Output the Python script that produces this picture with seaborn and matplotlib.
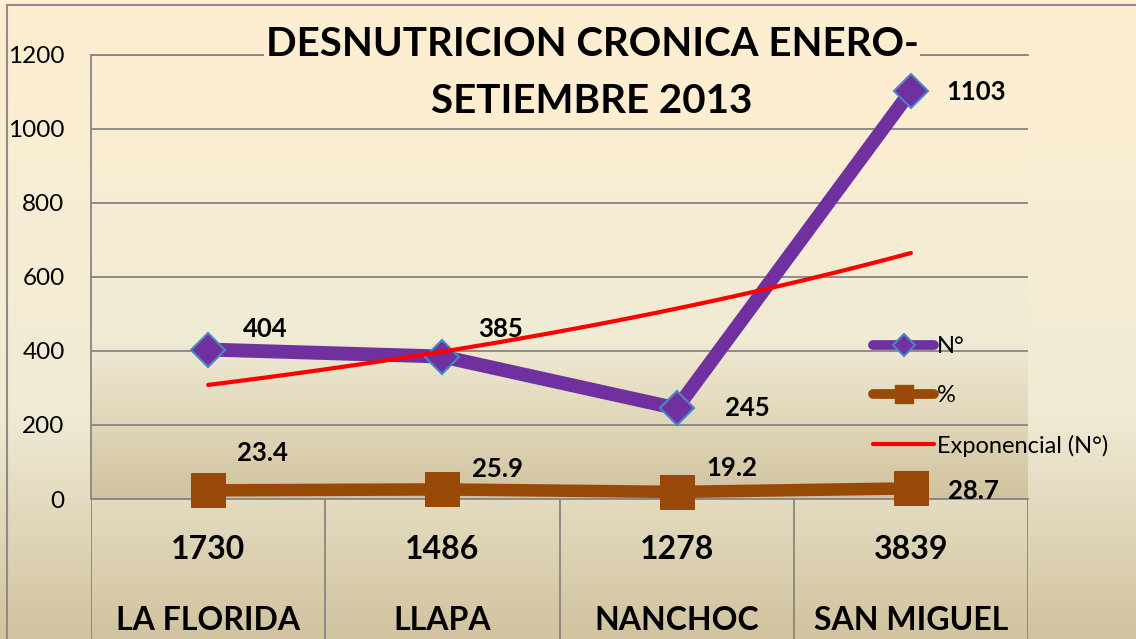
import numpy as np
import pandas as pd
import seaborn as sns
import matplotlib.pyplot as plt
from matplotlib.colors import LinearSegmentedColormap
from matplotlib.lines import Line2D

# Data
municipios = ['LA FLORIDA', 'LLAPA', 'NANCHOC', 'SAN MIGUEL']
poblacion = [1730, 1486, 1278, 3839]
casos = [404, 385, 245, 1103]
porcentaje = [23.4, 25.9, 19.2, 28.7]
titulo = 'DESNUTRICION CRONICA ENERO-\nSETIEMBRE 2013'

# label offsets (points)
off_casos = [(41, 15), (42, 20), (51, 0), (47, -1)]
off_pct = [(39, 27), (40, 15), (40, 17), (45, -2)]

sns.set_style('white')
plt.rcParams['font.family'] = ['Lato', 'DejaVu Sans']
plt.rcParams['text.color'] = 'black'
plt.rcParams['ytick.color'] = 'black'

W, H = 1136, 639
fig = plt.figure(figsize=(W / 100, H / 100), dpi=100)

parchment = LinearSegmentedColormap.from_list(
    'parchment', [(0, '#FFEFD1'), (0.64, '#F0EBD5'), (1, '#D1C39F')])
grad = np.linspace(0, 1, 512).reshape(-1, 1)

# chart background
bg = fig.add_axes([0, 0, 1, 1], zorder=-10)
bg.imshow(grad, cmap=parchment, aspect='auto', extent=[0, 1, 0, 1], interpolation='bilinear')
bg.plot([7 / W, 7 / W], [0, 1 - 5 / H], color='#8C8C8C', lw=1.5)
bg.plot([7 / W, 1], [1 - 5 / H, 1 - 5 / H], color='#8C8C8C', lw=1.5)
bg.set_xlim(0, 1)
bg.set_ylim(0, 1)
bg.axis('off')

rect = [91 / W, 1 - 499 / H, 937 / W, 444 / H]
pa = fig.add_axes(rect, zorder=-5)
pa.imshow(grad, cmap=parchment, aspect='auto', extent=[0, 1, 0, 1], interpolation='bilinear')
pa.axis('off')

# grid / ticks axes (below the title)
ax = fig.add_axes(rect, zorder=0)
ax.patch.set_visible(False)
ax.set_xlim(-0.5, 3.5)
ax.set_ylim(0, 1200)
ax.set_yticks(range(0, 1201, 200))
ax.set_xticks([])
ax.tick_params(axis='y', length=0, pad=19, labelsize=17.5)
ax.yaxis.grid(True, color='#868686', lw=1.3)
for s in ['left', 'top', 'bottom']:
    ax.spines[s].set_visible(True)
    ax.spines[s].set_color('#868686')
    ax.spines[s].set_linewidth(1.3)
ax.spines['right'].set_visible(False)

# data axes (above the title)
ax2 = fig.add_axes(rect, zorder=5)
ax2.patch.set_visible(False)
pos = np.arange(len(municipios))

purple = '#7030A0'
brown = '#984807'

sns.lineplot(x=pos, y=casos, ax=ax2, color=purple, lw=10, marker='D', markersize=17,
             markerfacecolor=purple, markeredgecolor='#4A86C5', markeredgewidth=1.5,
             solid_capstyle='round', zorder=3)
sns.lineplot(x=pos, y=porcentaje, ax=ax2, color=brown, lw=9, marker='s', markersize=24,
             markerfacecolor=brown, markeredgecolor=brown, zorder=4)

# exponential trend (Excel-style fit on N°)
b, a = np.polyfit(pos + 1, np.log(casos), 1)
xs = np.linspace(0, 3, 60)
trend = pd.DataFrame({'x': xs, 'y': np.exp(a + b * (xs + 1))})
sns.lineplot(data=trend, x='x', y='y', ax=ax2, color='#FF0000', lw=3,
             solid_capstyle='round', zorder=5)
for ln in ax2.lines:
    ln.set_clip_on(False)

for i in pos:
    ax2.annotate(str(casos[i]), (i, casos[i]), xytext=off_casos[i], textcoords='offset points',
                 ha='center', va='center', fontsize=18.5, fontweight='bold', zorder=6)
    ax2.annotate(str(porcentaje[i]), (i, porcentaje[i]), xytext=off_pct[i],
                 textcoords='offset points', ha='center', va='center', fontsize=18.5,
                 fontweight='bold', zorder=6)

ax2.set_xlim(-0.5, 3.5)
ax2.set_ylim(0, 1200)
ax2.axis('off')

# category table under the axis
tb = fig.add_axes([91 / W, 0, 937 / W, (H - 499) / H])
tb.set_xlim(-0.5, 3.5)
tb.set_ylim(0, 1)
tb.axis('off')
for xv in np.arange(-0.5, 4, 1):
    tb.plot([xv, xv], [0, 1], color='#868686', lw=1.3)
for i in pos:
    tb.text(i, 0.64, str(poblacion[i]), ha='center', va='center', fontsize=23, fontweight='bold')
    tb.text(i, 0.13, municipios[i], ha='center', va='center', fontsize=23, fontweight='bold')

# legend
handles = [
    Line2D([], [], color=purple, lw=7, marker='D', markersize=11, markerfacecolor=purple,
           markeredgecolor='#4A86C5', markeredgewidth=1.5, solid_capstyle='round'),
    Line2D([], [], color=brown, lw=7, marker='s', markersize=13, markerfacecolor=brown,
           markeredgecolor=brown, solid_capstyle='round'),
    Line2D([], [], color='#FF0000', lw=3, solid_capstyle='round'),
]
ax2.legend(handles, ['N°', '%', 'Exponencial (N°)'], loc='upper left',
           bbox_to_anchor=(873 / W, 1 - 336 / H), bbox_transform=fig.transFigure,
           frameon=False, fontsize=17, handlelength=2.6, handletextpad=0.1,
           labelspacing=1.2, borderpad=0, borderaxespad=0)

fig.text(592 / W, 1 - 73 / H, titulo, ha='center', va='center', fontsize=29,
         fontweight='bold', linespacing=1.65, zorder=3,
         bbox=dict(facecolor='#FDEED2', edgecolor='none', pad=1))

fig.savefig('out.png', dpi=100)
